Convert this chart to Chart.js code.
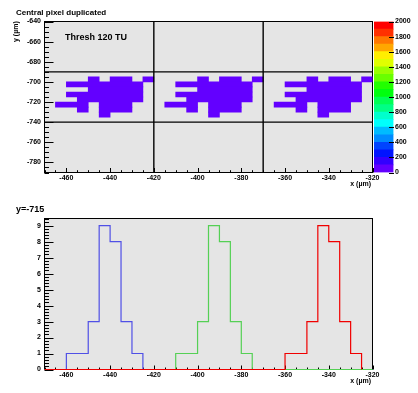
<!DOCTYPE html>
<html>
<head>
<meta charset="utf-8">
<script src="https://cdn.jsdelivr.net/npm/chart.js@4.4.0/dist/chart.umd.min.js"></script>
<style>
  body { margin: 0; background: #fff; width: 418px; height: 393px; position: relative; overflow: hidden;
         font-family: "Liberation Sans", Arial, sans-serif; font-weight: bold; }
  canvas { position: absolute; }
  .txt { position: absolute; white-space: nowrap; line-height: 1; color: #000; }
</style>
</head>
<body>
<canvas id="map" width="418" height="200" style="left:0;top:0"></canvas>
<canvas id="zbar" width="48" height="200" style="left:370px;top:0"></canvas>
<canvas id="slice" width="418" height="193" style="left:0;top:200px"></canvas>

<div class="txt" style="left:16px;top:9px;font-size:8px">Central pixel duplicated</div>
<div class="txt" style="left:65px;top:33px;font-size:9px">Thresh 120 TU</div>
<div class="txt" style="left:12px;top:42px;font-size:7px;transform:rotate(-90deg);transform-origin:0 0">y (µm)</div>
<div class="txt" style="right:47px;top:180px;font-size:7px">x (µm)</div>
<div class="txt" style="left:16px;top:205px;font-size:9px">y=-715</div>
<div class="txt" style="right:47px;top:377px;font-size:7px">x (µm)</div>

<script>
// tick labels
var xTicks = [-460, -440, -420, -400, -380, -360, -340, -320];
var yMapTicks = [-640, -660, -680, -700, -720, -740, -760, -780];
var countTicks = [0, 1, 2, 3, 4, 5, 6, 7, 8, 9];
var zTicks = [0, 200, 400, 600, 800, 1000, 1200, 1400, 1600, 1800, 2000];
var zLevels = [0, 100, 200, 300, 400, 500, 600, 700, 800, 900, 1000,
               1100, 1200, 1300, 1400, 1500, 1600, 1700, 1800, 1900, 2000];

// map cells: [y centre, x from, x to]  (5 um bins)
var cellsLeft = [
  [-697.5, -450, -445], [-697.5, -440, -430], [-697.5, -425, -420],
  [-702.5, -460, -425],
  [-707.5, -450, -425],
  [-712.5, -460, -425],
  [-717.5, -455, -425],
  [-722.5, -465, -450], [-722.5, -445, -430],
  [-727.5, -455, -450], [-727.5, -445, -430],
  [-732.5, -445, -440]
];
var cellsMid = [
  [-697.5, -400, -395], [-697.5, -390, -380], [-697.5, -375, -370],
  [-702.5, -410, -375],
  [-707.5, -400, -375],
  [-712.5, -410, -375],
  [-717.5, -405, -375],
  [-722.5, -415, -400], [-722.5, -395, -380],
  [-727.5, -405, -400], [-727.5, -395, -380],
  [-732.5, -395, -390]
];
var cellsRight = [
  [-697.5, -350, -345], [-697.5, -340, -330], [-697.5, -325, -320],
  [-702.5, -360, -325],
  [-707.5, -350, -325],
  [-712.5, -360, -325],
  [-717.5, -355, -325],
  [-722.5, -365, -350], [-722.5, -345, -330],
  [-727.5, -355, -350], [-727.5, -345, -330],
  [-732.5, -345, -340]
];
var pixelEdgesX = [-420, -370];
var pixelEdgesY = [-690, -740];

// slice at y=-715, bin left edges
var binEdges = [-470, -465, -460, -455, -450, -445, -440, -435, -430, -425,
                -420, -415, -410, -405, -400, -395, -390, -385, -380, -375,
                -370, -365, -360, -355, -350, -345, -340, -335, -330, -325, -320];
var blueCounts  = [0, 0, 1, 1, 3, 9, 8, 3, 1, 0,  0, 0, 0, 0, 0, 0, 0, 0, 0, 0,  0, 0, 0, 0, 0, 0, 0, 0, 0, 0];
var greenCounts = [0, 0, 0, 0, 0, 0, 0, 0, 0, 0,  0, 0, 1, 1, 3, 9, 8, 3, 1, 0,  0, 0, 0, 0, 0, 0, 0, 0, 0, 0];
var redCounts   = [0, 0, 0, 0, 0, 0, 0, 0, 0, 0,  0, 0, 0, 0, 0, 0, 0, 0, 0, 0,  0, 0, 1, 1, 3, 9, 8, 3, 1, 0];

// palette hues (violet -> red)
var paletteHues = [263.2, 252, 235.2, 224, 207.2, 196, 179.2, 168, 151.2, 140,
                   123.2, 112, 95.2, 84, 67.2, 56, 39.2, 28, 11.2, 0];
var cellColor = 'hsl(263.2,100%,50%)';

Chart.defaults.font = { family: '"Liberation Sans", Arial, sans-serif', size: 7, weight: 'bold' };
Chart.defaults.color = '#000';

function axis(min, max, tickVals, fit, pad) {
  return {
    type: 'linear', min: min, max: max, offset: false,
    afterBuildTicks: function(s) { s.ticks = tickVals.map(function(v) { return { value: v }; }); },
    afterFit: fit,
    ticks: { callback: function(v) { return String(v); }, autoSkip: false, maxRotation: 0, padding: pad },
    grid: { display: false, drawTicks: false },
    border: { display: false }
  };
}

function line(ctx, x0, y0, x1, y1) {
  ctx.beginPath(); ctx.moveTo(x0, y0); ctx.lineTo(x1, y1); ctx.stroke();
}

// gray frame + inward ticks, ROOT style
function framePlugin(sp) {
  return {
    id: 'frame',
    beforeDraw: function(chart) {
      var a = chart.chartArea, ctx = chart.ctx;
      ctx.save(); ctx.fillStyle = '#e5e5e5';
      ctx.fillRect(a.left, a.top, a.right - a.left, a.bottom - a.top);
      ctx.restore();
    },
    beforeDatasetsDraw: function(chart) {
      var a = chart.chartArea, ctx = chart.ctx, sx = chart.scales.x, sy = chart.scales.y;
      ctx.save();
      ctx.strokeStyle = '#000'; ctx.lineWidth = 1;
      ctx.strokeRect(a.left, a.top, a.right - a.left, a.bottom - a.top);
      var k, v, p, maj;
      for (k = 0; ; k++) {
        v = sx.min + k * sp.xMinor;
        if (v > sx.max + 1e-6) break;
        maj = Math.abs(v / sp.xMajor - Math.round(v / sp.xMajor)) < 1e-6;
        p = Math.round(sx.getPixelForValue(v)) + 0.5;
        line(ctx, p, a.bottom, p, a.bottom - (maj ? sp.xLen[0] : sp.xLen[1]));
      }
      for (k = 0; ; k++) {
        v = sy.min + k * sp.yMinor;
        if (v > sy.max + 1e-6) break;
        maj = Math.abs(v / sp.yMajor - Math.round(v / sp.yMajor)) < 1e-6;
        p = Math.round(sy.getPixelForValue(v)) + 0.5;
        line(ctx, a.left, p, a.left + (maj ? sp.yLen[0] : sp.yLen[1]), p);
      }
      ctx.restore();
    }
  };
}

// ---- top: cluster map ----
var cells = cellsLeft.concat(cellsMid, cellsRight).map(function(c) {
  return { y: c[0], x: [c[1], c[2]] };
});

new Chart(document.getElementById('map'), {
  type: 'bar',
  data: {
    datasets: [{
      data: cells,
      backgroundColor: cellColor,
      borderWidth: 0,
      barPercentage: 1,
      categoryPercentage: 1
    }]
  },
  options: {
    indexAxis: 'y',
    responsive: false,
    animation: false,
    layout: { padding: { top: 21.5, right: 45.5, left: 0, bottom: 0 } },
    plugins: { legend: { display: false }, tooltip: { enabled: false } },
    scales: {
      x: axis(-470, -320, xTicks, function(s) { s.height = 27.5; }, 1),
      y: axis(-790, -640, yMapTicks, function(s) { s.width = 44.5; }, 3.5)
    }
  },
  plugins: [
    framePlugin({ xMajor: 20, xMinor: 5, xLen: [4.5, 2.3], yMajor: 20, yMinor: 5, yLen: [9, 4.5] }),
    {
      id: 'pixelEdges',
      afterDatasetsDraw: function(chart) {
        var a = chart.chartArea, ctx = chart.ctx;
        ctx.save(); ctx.strokeStyle = '#000'; ctx.lineWidth = 1.4;
        pixelEdgesX.forEach(function(v) {
          var p = chart.scales.x.getPixelForValue(v);
          line(ctx, p, a.top, p, a.bottom);
        });
        pixelEdgesY.forEach(function(v) {
          var p = chart.scales.y.getPixelForValue(v);
          line(ctx, a.left, p, a.right, p);
        });
        ctx.restore();
      }
    }
  ]
});

// ---- colour scale ----
new Chart(document.getElementById('zbar'), {
  type: 'bar',
  data: {
    labels: [''],
    datasets: zLevels.slice(0, -1).map(function(lv, j) {
      return {
        data: [[lv, zLevels[j + 1]]],
        backgroundColor: 'hsl(' + paletteHues[j] + ',100%,50%)',
        borderWidth: 0,
        grouped: false,
        barPercentage: 1,
        categoryPercentage: 1
      };
    })
  },
  options: {
    responsive: false,
    animation: false,
    layout: { padding: { left: 4, top: 21.5, bottom: 27.5, right: 0 } },
    plugins: { legend: { display: false }, tooltip: { enabled: false } },
    scales: {
      x: { display: false },
      y: Object.assign(axis(0, 2000, zTicks, function(s) { s.width = 24.5; }, 1.5), { position: 'right' })
    }
  },
  plugins: [{
    id: 'zticks',
    afterDatasetsDraw: function(chart) {
      var a = chart.chartArea, ctx = chart.ctx, sy = chart.scales.y;
      ctx.save(); ctx.strokeStyle = '#000'; ctx.lineWidth = 1;
      zTicks.forEach(function(v) {
        var p = Math.round(sy.getPixelForValue(v)) + 0.5;
        line(ctx, a.right - 4.5, p, a.right + 0.5, p);
      });
      ctx.restore();
    }
  }]
});

// ---- bottom: slice histograms ----
function stepPoints(counts, closeEnd) {
  var pts = [];
  for (var i = 0; i < counts.length; i++) pts.push({ x: binEdges[i], y: counts[i] });
  if (closeEnd) pts.push({ x: binEdges[counts.length], y: counts[counts.length - 1] });
  return pts;
}

function hist(pts, color) {
  return {
    data: pts, borderColor: color, borderWidth: 1.2, stepped: true,
    pointRadius: 0, fill: false, clip: false, borderJoinStyle: 'miter'
  };
}

new Chart(document.getElementById('slice'), {
  type: 'line',
  data: {
    datasets: [
      hist(stepPoints(redCounts, false), '#f00000'),
      hist(stepPoints(greenCounts, true), '#55d055'),
      hist(stepPoints(blueCounts, true), '#5050e6')
    ]
  },
  options: {
    responsive: false,
    animation: false,
    layout: { padding: { top: 18.5, right: 45.5, left: 0, bottom: 0 } },
    plugins: { legend: { display: false }, tooltip: { enabled: false } },
    scales: {
      x: axis(-470, -320, xTicks, function(s) { s.height = 23.5; }, 1),
      y: axis(0, 9.45, countTicks, function(s) { s.width = 44.5; }, 3.5)
    }
  },
  plugins: [framePlugin({ xMajor: 20, xMinor: 5, xLen: [4, 2], yMajor: 1, yMinor: 0.2, yLen: [9, 4.5] })]
});
</script>
</body>
</html>
